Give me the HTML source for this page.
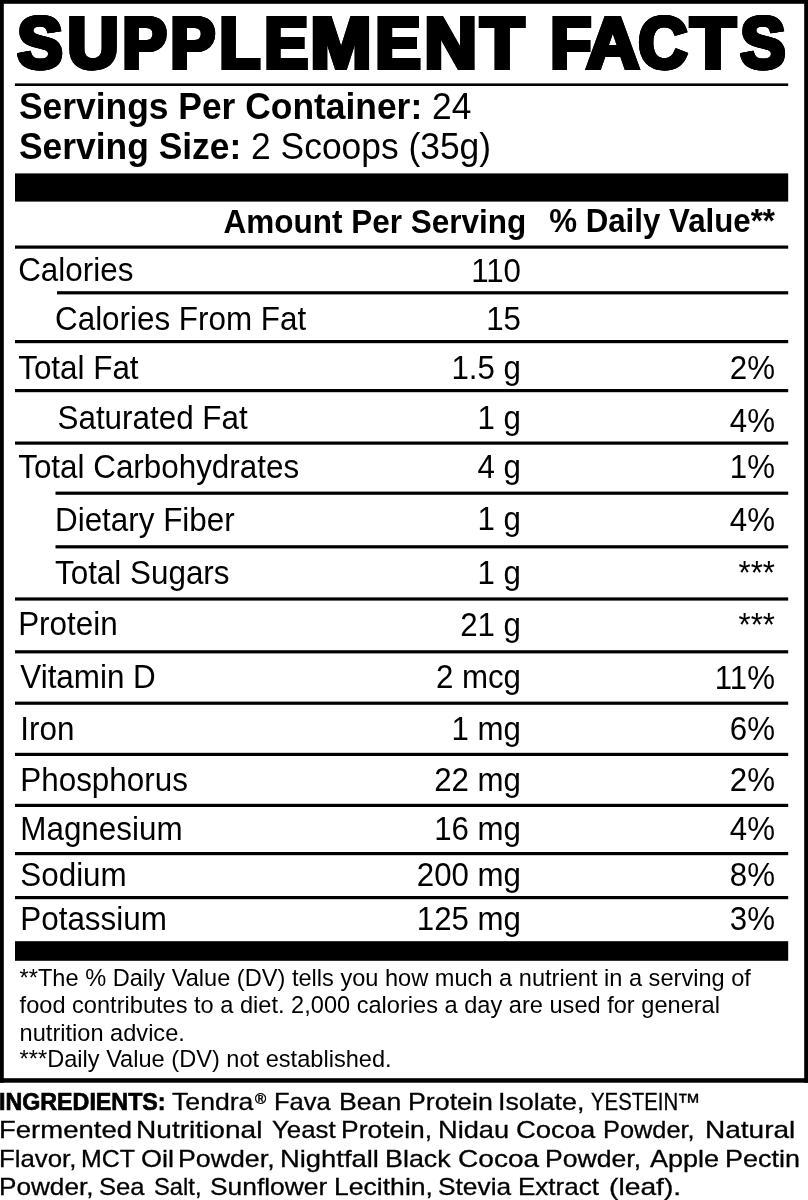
<!DOCTYPE html>
<html><head><meta charset="utf-8"><title>Supplement Facts</title>
<style>
html,body{margin:0;padding:0;background:#fff;}
html{width:808px;height:1200px;overflow:hidden}
body{width:808px;height:1200px;position:relative;overflow:hidden;filter:grayscale(1);font-family:"Liberation Sans",Arial,Helvetica,sans-serif;color:#000;}
.t{position:absolute;white-space:nowrap;}
.b{font-weight:bold}
.r{text-align:right}
.ttl{position:absolute;left:0;margin:0;width:808px;height:90px;font-size:72px;line-height:90px;font-weight:bold;white-space:pre;-webkit-text-stroke:4px #000;filter:drop-shadow(0.9px 0 0 #000) drop-shadow(-0.9px 0 0 #000)}
.ttl span{display:inline-block;width:0;position:relative;transform-origin:0 0}
.igl{position:absolute;left:0;width:808px;height:28px;font-size:23.8px;line-height:28px;white-space:pre}
.w{display:inline-block;width:0;position:relative;top:0;transform-origin:0 0;white-space:pre;-webkit-text-stroke:0.3px #000}
.w.reg{font-size:15px;top:-5.9px;-webkit-text-stroke:0.5px #000}
.w.b{-webkit-text-stroke:0.7px #000}
</style></head><body>

<svg style="position:absolute;left:0;top:0" width="808" height="1200" viewBox="0 0 808 1200" fill="#000"><rect x="0" y="0" width="808" height="3.8"/><rect x="0" y="0" width="3.8" height="1082.7"/><rect x="804.2" y="0" width="3.8" height="1082.7"/><rect x="0" y="1078.2" width="808" height="4.5"/><rect x="14.9" y="83.4" width="773.3" height="2.6"/><rect x="15" y="245.5" width="773.2" height="3.2"/><rect x="57" y="291.2" width="731.2" height="3.2"/><rect x="15" y="340.0" width="773.2" height="3.2"/><rect x="15" y="389" width="773.2" height="3.2"/><rect x="15" y="441.5" width="773.2" height="3.2"/><rect x="55.5" y="491.6" width="732.7" height="3.2"/><rect x="55.5" y="545.2" width="732.7" height="3.2"/><rect x="15" y="597.4" width="773.2" height="3.2"/><rect x="15" y="650.2" width="773.2" height="3.2"/><rect x="15" y="701.6" width="773.2" height="3.2"/><rect x="15" y="752.8" width="773.2" height="3.2"/><rect x="15" y="803.8" width="773.2" height="3.2"/><rect x="15" y="852" width="773.2" height="3.2"/><rect x="15" y="896" width="773.2" height="3.2"/><rect x="15" y="173.4" width="773.2" height="28.2"/><rect x="15" y="941.2" width="773.2" height="19.6"/></svg>
<h1 class="ttl" style="top:-2.00px"><span style="left:18.23px;transform:scaleX(0.9377)">S</span><span style="left:67.71px;transform:scaleX(0.9836)">U</span><span style="left:123.11px;transform:scaleX(0.9208)">P</span><span style="left:171.28px;transform:scaleX(0.9297)">P</span><span style="left:220.10px;transform:scaleX(0.9231)">L</span><span style="left:264.75px;transform:scaleX(0.9055)">E</span><span style="left:311.44px;transform:scaleX(1.0158)">M</span><span style="left:375.85px;transform:scaleX(0.9393)">E</span><span style="left:425.47px;transform:scaleX(1.0059)">N</span><span style="left:481.08px;transform:scaleX(0.9871)">T</span><span style="left:534px"> </span><span style="left:550.89px;transform:scaleX(0.9253)">F</span><span style="left:586.51px;transform:scaleX(1.0114)">A</span><span style="left:639.41px;transform:scaleX(0.9359)">C</span><span style="left:691.12px;transform:scaleX(1.0237)">T</span><span style="left:740.73px;transform:scaleX(0.9335)">S</span></h1>
<div class="t " style="top:86.90px;font-size:35.4px;line-height:40px;left:19px;transform-origin:0 31.70px;transform:scaleY(1.04);"><span class="b">Servings Per Container:</span> 24</div>
<div class="t " style="top:127.10px;font-size:35.4px;line-height:40px;left:19px;transform-origin:0 31.70px;transform:scaleY(1.04);"><span class="b">Serving Size:</span> 2 Scoops (35g)</div>
<div class="t b r" style="top:201.79px;font-size:31.5px;line-height:40px;left:200px;width:326.3px;transform-origin:0 30.41px;transform:scaleY(1.04);">Amount Per Serving</div>
<div class="t b r" style="top:201.87px;font-size:31.25px;line-height:40px;left:500px;width:275px;transform-origin:0 30.33px;transform:scaleY(1.04);">% Daily Value**</div>
<div class="t " style="top:250.62px;font-size:31.4px;line-height:40px;left:18.2px;transform-origin:0 30.38px;transform:scaleY(1.04);">Calories</div>
<div class="t r" style="top:251.87px;font-size:31.25px;line-height:40px;left:300px;width:221px;transform-origin:0 30.33px;transform:scaleY(1.04);">110</div>
<div class="t " style="top:300.02px;font-size:31.4px;line-height:40px;left:55px;transform-origin:0 30.38px;transform:scaleY(1.04);">Calories From Fat</div>
<div class="t r" style="top:299.97px;font-size:31.25px;line-height:40px;left:300px;width:221px;transform-origin:0 30.33px;transform:scaleY(1.04);">15</div>
<div class="t " style="top:349.02px;font-size:31.4px;line-height:40px;left:18.2px;transform-origin:0 30.38px;transform:scaleY(1.04);">Total Fat</div>
<div class="t r" style="top:348.97px;font-size:31.25px;line-height:40px;left:300px;width:221px;transform-origin:0 30.33px;transform:scaleY(1.04);">1.5 g</div>
<div class="t r" style="top:349.17px;font-size:31.25px;line-height:40px;left:600px;width:175px;transform-origin:0 30.33px;transform:scaleY(1.04);">2%</div>
<div class="t " style="top:399.12px;font-size:31.4px;line-height:40px;left:57.5px;transform-origin:0 30.38px;transform:scaleY(1.04);">Saturated Fat</div>
<div class="t r" style="top:399.07px;font-size:31.25px;line-height:40px;left:300px;width:221px;transform-origin:0 30.33px;transform:scaleY(1.04);">1 g</div>
<div class="t r" style="top:402.07px;font-size:31.25px;line-height:40px;left:600px;width:175px;transform-origin:0 30.33px;transform:scaleY(1.04);">4%</div>
<div class="t " style="top:448.02px;font-size:31.4px;line-height:40px;left:18.2px;transform-origin:0 30.38px;transform:scaleY(1.04);">Total Carbohydrates</div>
<div class="t r" style="top:447.97px;font-size:31.25px;line-height:40px;left:300px;width:221px;transform-origin:0 30.33px;transform:scaleY(1.04);">4 g</div>
<div class="t r" style="top:448.17px;font-size:31.25px;line-height:40px;left:600px;width:175px;transform-origin:0 30.33px;transform:scaleY(1.04);">1%</div>
<div class="t " style="top:500.52px;font-size:31.4px;line-height:40px;left:55px;transform-origin:0 30.38px;transform:scaleY(1.04);">Dietary Fiber</div>
<div class="t r" style="top:500.47px;font-size:31.25px;line-height:40px;left:300px;width:221px;transform-origin:0 30.33px;transform:scaleY(1.04);">1 g</div>
<div class="t r" style="top:500.67px;font-size:31.25px;line-height:40px;left:600px;width:175px;transform-origin:0 30.33px;transform:scaleY(1.04);">4%</div>
<div class="t " style="top:553.62px;font-size:31.4px;line-height:40px;left:55px;transform-origin:0 30.38px;transform:scaleY(1.04);">Total Sugars</div>
<div class="t r" style="top:554.27px;font-size:31.25px;line-height:40px;left:300px;width:221px;transform-origin:0 30.33px;transform:scaleY(1.04);">1 g</div>
<div class="t r" style="top:553.67px;font-size:31.25px;line-height:40px;left:600px;width:175px;transform-origin:0 30.33px;transform:scaleY(1.04);">***</div>
<div class="t " style="top:605.32px;font-size:31.4px;line-height:40px;left:18.2px;transform-origin:0 30.38px;transform:scaleY(1.04);">Protein</div>
<div class="t r" style="top:605.97px;font-size:31.25px;line-height:40px;left:300px;width:221px;transform-origin:0 30.33px;transform:scaleY(1.04);">21 g</div>
<div class="t r" style="top:606.17px;font-size:31.25px;line-height:40px;left:600px;width:175px;transform-origin:0 30.33px;transform:scaleY(1.04);">***</div>
<div class="t " style="top:658.32px;font-size:31.4px;line-height:40px;left:20.3px;transform-origin:0 30.38px;transform:scaleY(1.04);">Vitamin D</div>
<div class="t r" style="top:658.47px;font-size:31.25px;line-height:40px;left:300px;width:221px;transform-origin:0 30.33px;transform:scaleY(1.04);">2 mcg</div>
<div class="t r" style="top:658.67px;font-size:31.25px;line-height:40px;left:600px;width:175px;transform-origin:0 30.33px;transform:scaleY(1.04);">11%</div>
<div class="t " style="top:709.62px;font-size:31.4px;line-height:40px;left:20.3px;transform-origin:0 30.38px;transform:scaleY(1.04);">Iron</div>
<div class="t r" style="top:709.77px;font-size:31.25px;line-height:40px;left:300px;width:221px;transform-origin:0 30.33px;transform:scaleY(1.04);">1 mg</div>
<div class="t r" style="top:709.97px;font-size:31.25px;line-height:40px;left:600px;width:175px;transform-origin:0 30.33px;transform:scaleY(1.04);">6%</div>
<div class="t " style="top:761.12px;font-size:31.4px;line-height:40px;left:20.3px;transform-origin:0 30.38px;transform:scaleY(1.04);">Phosphorus</div>
<div class="t r" style="top:761.27px;font-size:31.25px;line-height:40px;left:300px;width:221px;transform-origin:0 30.33px;transform:scaleY(1.04);">22 mg</div>
<div class="t r" style="top:761.47px;font-size:31.25px;line-height:40px;left:600px;width:175px;transform-origin:0 30.33px;transform:scaleY(1.04);">2%</div>
<div class="t " style="top:809.82px;font-size:31.4px;line-height:40px;left:20.3px;transform-origin:0 30.38px;transform:scaleY(1.04);">Magnesium</div>
<div class="t r" style="top:809.97px;font-size:31.25px;line-height:40px;left:300px;width:221px;transform-origin:0 30.33px;transform:scaleY(1.04);">16 mg</div>
<div class="t r" style="top:810.17px;font-size:31.25px;line-height:40px;left:600px;width:175px;transform-origin:0 30.33px;transform:scaleY(1.04);">4%</div>
<div class="t " style="top:856.12px;font-size:31.4px;line-height:40px;left:20.3px;transform-origin:0 30.38px;transform:scaleY(1.04);">Sodium</div>
<div class="t r" style="top:856.27px;font-size:31.25px;line-height:40px;left:300px;width:221px;transform-origin:0 30.33px;transform:scaleY(1.04);">200 mg</div>
<div class="t r" style="top:856.47px;font-size:31.25px;line-height:40px;left:600px;width:175px;transform-origin:0 30.33px;transform:scaleY(1.04);">8%</div>
<div class="t " style="top:899.62px;font-size:31.4px;line-height:40px;left:20.3px;transform-origin:0 30.38px;transform:scaleY(1.04);">Potassium</div>
<div class="t r" style="top:899.77px;font-size:31.25px;line-height:40px;left:300px;width:221px;transform-origin:0 30.33px;transform:scaleY(1.04);">125 mg</div>
<div class="t r" style="top:899.97px;font-size:31.25px;line-height:40px;left:600px;width:175px;transform-origin:0 30.33px;transform:scaleY(1.04);">3%</div>
<div class="t " style="top:965.20px;font-size:23.6px;line-height:26px;left:19.6px;transform-origin:0 20.80px;transform:scaleY(1.04);">**The % Daily Value (DV) tells you how much a nutrient in a serving of</div>
<div class="t " style="top:992.40px;font-size:23.6px;line-height:26px;left:19.6px;transform-origin:0 20.80px;transform:scaleY(1.04);">food contributes to a diet. 2,000 calories a day are used for general</div>
<div class="t " style="top:1020.20px;font-size:23.6px;line-height:26px;left:19.6px;transform-origin:0 20.80px;transform:scaleY(1.04);">nutrition advice.</div>
<div class="t " style="top:1045.50px;font-size:23.6px;line-height:26px;left:19.6px;transform-origin:0 20.80px;transform:scaleY(1.04);">***Daily Value (DV) not established.</div>
<div class="igl" style="top:1087.83px"><span class="w b" style="left:-0.95px;transform:scaleX(0.9766)">INGREDIENTS: </span><span class="w" style="left:171.98px;transform:scaleX(1.1192)">Tendra</span><span class="w reg" style="left:255.30px;transform:scaleX(1.0077)">® </span><span class="w" style="left:273.80px;transform:scaleX(1.0742)">Fava </span><span class="w" style="left:338.92px;transform:scaleX(1.1205)">Bean </span><span class="w" style="left:407.51px;transform:scaleX(1.1244)">Protein </span><span class="w" style="left:498.11px;transform:scaleX(1.1259)">Isolate, </span><span class="w" style="left:591.08px;transform:scaleX(0.8561)">YESTEIN</span><span class="w" style="left:676.54px;transform:scaleX(0.9981)">™ </span></div>
<div class="igl" style="top:1116.03px"><span class="w" style="left:-0.65px;transform:scaleX(1.1556)">Fermented </span><span class="w" style="left:136.41px;transform:scaleX(1.1801)">Nutritional </span><span class="w" style="left:271.60px;transform:scaleX(1.0842)">Yeast </span><span class="w" style="left:341.43px;transform:scaleX(1.1112)">Protein, </span><span class="w" style="left:438.37px;transform:scaleX(1.1443)">Nidau </span><span class="w" style="left:515.71px;transform:scaleX(1.1528)">Cocoa </span><span class="w" style="left:602.72px;transform:scaleX(1.0649)">Powder, </span><span class="w" style="left:704.51px;transform:scaleX(1.1774)">Natural </span></div>
<div class="igl" style="top:1144.53px"><span class="w" style="left:-0.52px;transform:scaleX(1.0843)">Flavor, </span><span class="w" style="left:80.56px;transform:scaleX(1.0449)">MCT </span><span class="w" style="left:141.23px;transform:scaleX(1.1362)">Oil </span><span class="w" style="left:177.91px;transform:scaleX(1.1231)">Powder, </span><span class="w" style="left:280.36px;transform:scaleX(1.1507)">Nightfall </span><span class="w" style="left:385.40px;transform:scaleX(1.1285)">Black </span><span class="w" style="left:457.68px;transform:scaleX(1.1794)">Cocoa </span><span class="w" style="left:544.92px;transform:scaleX(1.1171)">Powder, </span><span class="w" style="left:650.00px;transform:scaleX(1.1351)">Apple </span><span class="w" style="left:724.59px;transform:scaleX(1.1326)">Pectin </span></div>
<div class="igl" style="top:1172.73px"><span class="w" style="left:-0.54px;transform:scaleX(1.0989)">Powder, </span><span class="w" style="left:99.20px;transform:scaleX(1.0777)">Sea </span><span class="w" style="left:154.26px;transform:scaleX(0.9978)">Salt, </span><span class="w" style="left:209.88px;transform:scaleX(1.1079)">Sunflower </span><span class="w" style="left:334.22px;transform:scaleX(1.1164)">Lecithin, </span><span class="w" style="left:438.18px;transform:scaleX(1.1059)">Stevia </span><span class="w" style="left:517.97px;transform:scaleX(1.0929)">Extract </span><span class="w" style="left:608.68px;transform:scaleX(1.1864)">(leaf). </span></div>
</body></html>
